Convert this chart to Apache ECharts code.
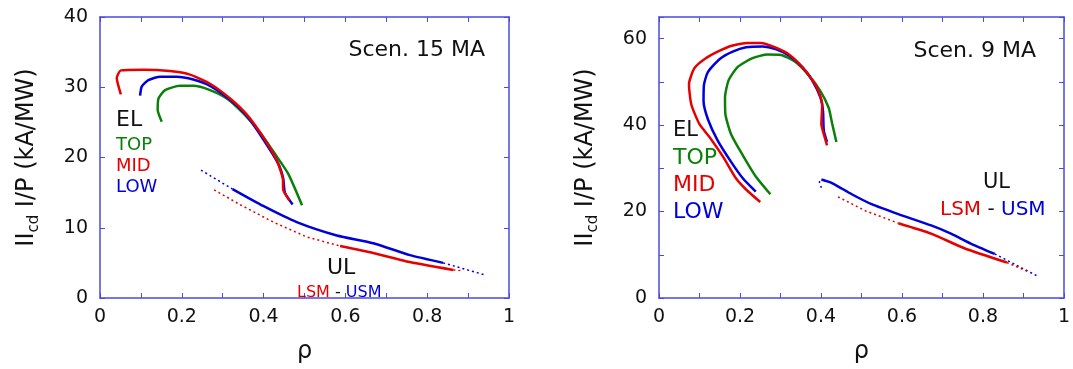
<!DOCTYPE html>
<html>
<head>
  <meta charset="UTF-8">
  <title>Icd/P vs rho</title>
  <script type="text/javascript" src="https://cdn.jsdelivr.net/npm/echarts@6/dist/echarts.min.js"></script>
</head>
<body style="margin:0">
<div id="main" style="width:1073px; height:369px;"></div>
<script>
  // ============ data (rho, Icd/P) ============
  // Scen. 15 MA
  const elTop15 = [[0.151,25.1],[0.141,26.8],[0.143,28.4],[0.159,29.6],[0.196,30.2],[0.228,30.2],[0.269,29.6],[0.310,28.4],[0.350,26.3],[0.391,23.6],[0.428,20.5],[0.460,17.7],[0.494,13.2]];
  const elMid15 = [[0.051,29.0],[0.041,31.3],[0.051,32.4],[0.106,32.5],[0.171,32.3],[0.220,31.8],[0.269,30.5],[0.318,28.4],[0.359,26.1],[0.399,22.9],[0.432,19.6],[0.447,17.0],[0.448,15.4],[0.463,13.9]];
  const elLow15 = [[0.098,28.8],[0.102,30.1],[0.118,31.0],[0.147,31.5],[0.187,31.5],[0.228,31.1],[0.269,30.2],[0.318,28.2],[0.359,25.9],[0.399,22.6],[0.436,19.1],[0.448,17.0],[0.452,15.0],[0.471,13.3]];
  const usm15DotA = [[0.247,18.2],[0.324,15.5]];
  const usm15 = [[0.324,15.5],[0.399,13.1],[0.481,10.8],[0.579,8.9],[0.668,7.8],[0.758,6.1],[0.839,5.0]];
  const usm15DotB = [[0.839,5.0],[0.943,3.25]];
  const lsm15DotA = [[0.279,15.4],[0.342,13.3],[0.424,10.8],[0.505,8.7],[0.587,7.4]];
  const lsm15 = [[0.587,7.4],[0.668,6.4],[0.750,5.2],[0.864,4.0]];
  const lsm15DotB = [[0.864,4.0],[0.882,3.9]];

  // Scen. 9 MA
  const elTop9 = [[0.275,24.0],[0.239,28.1],[0.207,33.0],[0.178,37.9],[0.164,42.5],[0.163,46.3],[0.172,50.4],[0.194,53.4],[0.231,55.5],[0.268,56.3],[0.301,56.2],[0.337,54.6],[0.370,51.5],[0.399,47.8],[0.419,44.0],[0.427,40.6],[0.438,36.1]];
  const elMid9 = [[0.250,22.2],[0.215,25.1],[0.190,27.7],[0.158,32.7],[0.125,37.2],[0.100,40.2],[0.080,44.7],[0.074,49.4],[0.087,53.1],[0.113,55.3],[0.150,57.2],[0.182,58.4],[0.219,59.0],[0.252,59.0],[0.284,58.1],[0.317,56.6],[0.346,54.2],[0.370,51.5],[0.391,48.5],[0.403,44.7],[0.401,40.2],[0.407,37.9],[0.415,35.3]];
  const elLow9 = [[0.239,24.6],[0.207,27.7],[0.178,31.5],[0.145,36.4],[0.121,41.3],[0.110,45.5],[0.111,49.3],[0.121,52.3],[0.150,55.3],[0.182,57.0],[0.215,58.0],[0.256,58.2],[0.288,57.6],[0.321,56.1],[0.354,53.4],[0.378,50.4],[0.399,46.3],[0.405,43.2],[0.407,38.7],[0.415,36.1]];
  const usm9DotA = [[0.401,25.5],[0.396,26.8],[0.401,27.4]];
  const usm9 = [[0.401,27.4],[0.427,26.6],[0.476,24.0],[0.525,21.7],[0.591,19.4],[0.672,16.8],[0.721,14.9],[0.770,12.6],[0.829,10.2]];
  const usm9DotB = [[0.829,10.2],[0.934,5.1]];
  const lsm9DotA = [[0.442,23.4],[0.509,20.2],[0.591,17.3]];
  const lsm9 = [[0.591,17.3],[0.672,14.9],[0.754,11.5],[0.859,8.2]];
  const lsm9DotB = [[0.859,8.2],[0.909,6.2]];

  // ============ styles ============
  const FONT = '"DejaVu Sans", Verdana, sans-serif';
  const RED = '#e60000', GREEN = '#0a800a', BLUE = '#0000dd', FRAME = '#4a4ae6';

  let chart = echarts.init(document.getElementById('main'), null, {renderer: 'canvas'});

  function xAxis(grid, pos, labels) {
    return {
      type: 'value', gridIndex: grid, position: pos, min: 0, max: 1, interval: 0.1,
      axisLine: {show: true, onZero: false, lineStyle: {color: FRAME, width: 1.5}},
      axisTick: {show: true, inside: true, length: 5, lineStyle: {color: FRAME}},
      splitLine: {show: false},
      axisLabel: {
        show: labels, color: '#111', fontFamily: FONT, fontSize: 19, margin: 10,
        formatter: v => (Math.round(v * 10) % 2 === 0 ? String(Math.round(v * 10) / 10) : '')
      },
      name: labels ? 'ρ' : '', nameLocation: 'middle', nameGap: 42,
      nameTextStyle: {color: '#111', fontFamily: FONT, fontSize: 24}
    };
  }

  function yAxis(grid, pos, max, step, labelStep, labels) {
    return {
      type: 'value', gridIndex: grid, position: pos, min: 0, max: max, interval: step,
      axisLine: {show: true, onZero: false, lineStyle: {color: FRAME, width: 1.5}},
      axisTick: {show: true, inside: true, length: 5, lineStyle: {color: FRAME}},
      splitLine: {show: false},
      axisLabel: {
        show: labels, color: '#111', fontFamily: FONT, fontSize: 19, margin: 12,
        formatter: v => (v % labelStep === 0 ? String(v) : '')
      },
      name: labels ? '{a|II}{b|cd}{a| I/P (kA/MW)}' : '',
      nameLocation: 'middle', nameGap: 58,
      nameTextStyle: {
        rich: {
          a: {color: '#111', fontFamily: FONT, fontSize: 24, lineHeight: 30},
          b: {color: '#111', fontFamily: FONT, fontSize: 15, padding: [14, 0, 0, 0], lineHeight: 30}
        }
      }
    };
  }

  function line(xi, yi, data, color, dotted) {
    return {
      type: 'line', xAxisIndex: xi, yAxisIndex: yi, data: data,
      showSymbol: false, smooth: dotted ? false : 0.2, animation: false,
      lineStyle: dotted ? {color: color, width: 1.5, type: [2, 3]} : {color: color, width: 2.5}
    };
  }

  function txt(x, y, text, size, color, align) {
    return {
      type: 'text', x: x, y: y, z: 100,
      style: {text: text, fill: color, font: size + 'px ' + FONT, textAlign: align || 'left', textVerticalAlign: 'middle'}
    };
  }

  function ulText(x, y, size) {
    return {
      type: 'text', x: x, y: y, z: 100,
      style: {
        text: '{r|LSM\u00a0}{k|-}{b|\u00a0USM}', textVerticalAlign: 'middle',
        rich: {
          r: {fill: RED, fontFamily: FONT, fontSize: size},
          k: {fill: '#111', fontFamily: FONT, fontSize: size},
          b: {fill: BLUE, fontFamily: FONT, fontSize: size}
        }
      }
    };
  }

  chart.setOption({
    backgroundColor: '#fff',
    animation: false,
    grid: [
      {left: 100, top: 17, width: 409, height: 287},
      {left: 659, top: 17, width: 408, height: 287}
    ],
    xAxis: [xAxis(0, 'bottom', true), xAxis(0, 'top', false), xAxis(1, 'bottom', true), xAxis(1, 'top', false)],
    yAxis: [yAxis(0, 'left', 40, 10, 10, true), yAxis(0, 'right', 40, 10, 10, false),
            yAxis(1, 'left', 65, 10, 20, true), yAxis(1, 'right', 65, 10, 20, false)],
    series: [
      line(0, 0, elTop15, GREEN), line(0, 0, elLow15, BLUE), line(0, 0, elMid15, RED),
      line(0, 0, usm15DotA, BLUE, true), line(0, 0, usm15, BLUE), line(0, 0, usm15DotB, BLUE, true),
      line(0, 0, lsm15DotA, RED, true), line(0, 0, lsm15, RED), line(0, 0, lsm15DotB, RED, true),
      line(2, 2, elTop9, GREEN), line(2, 2, elLow9, BLUE), line(2, 2, elMid9, RED),
      line(2, 2, usm9DotA, BLUE, true), line(2, 2, usm9, BLUE), line(2, 2, usm9DotB, BLUE, true),
      line(2, 2, lsm9DotA, RED, true), line(2, 2, lsm9, RED), line(2, 2, lsm9DotB, RED, true)
    ],
    graphic: [
      txt(485, 50, 'Scen. 15 MA', 22, '#111', 'right'),
      txt(116, 120, 'EL', 22, '#111'),
      txt(116, 145, 'TOP', 18, GREEN),
      txt(116, 166, 'MID', 18, RED),
      txt(116, 187, 'LOW', 18, BLUE),
      txt(327, 268, 'UL', 22, '#111'),
      ulText(297, 293, 16),
      txt(1036, 51, 'Scen. 9 MA', 22, '#111', 'right'),
      txt(673, 131, 'EL', 21, '#111'),
      txt(673, 158, 'TOP', 22, GREEN),
      txt(673, 185, 'MID', 22, RED),
      txt(673, 212, 'LOW', 22, BLUE),
      txt(983, 183, 'UL', 21, '#111'),
      ulText(940, 210, 20)
    ]
  });
</script>
</body>
</html>
